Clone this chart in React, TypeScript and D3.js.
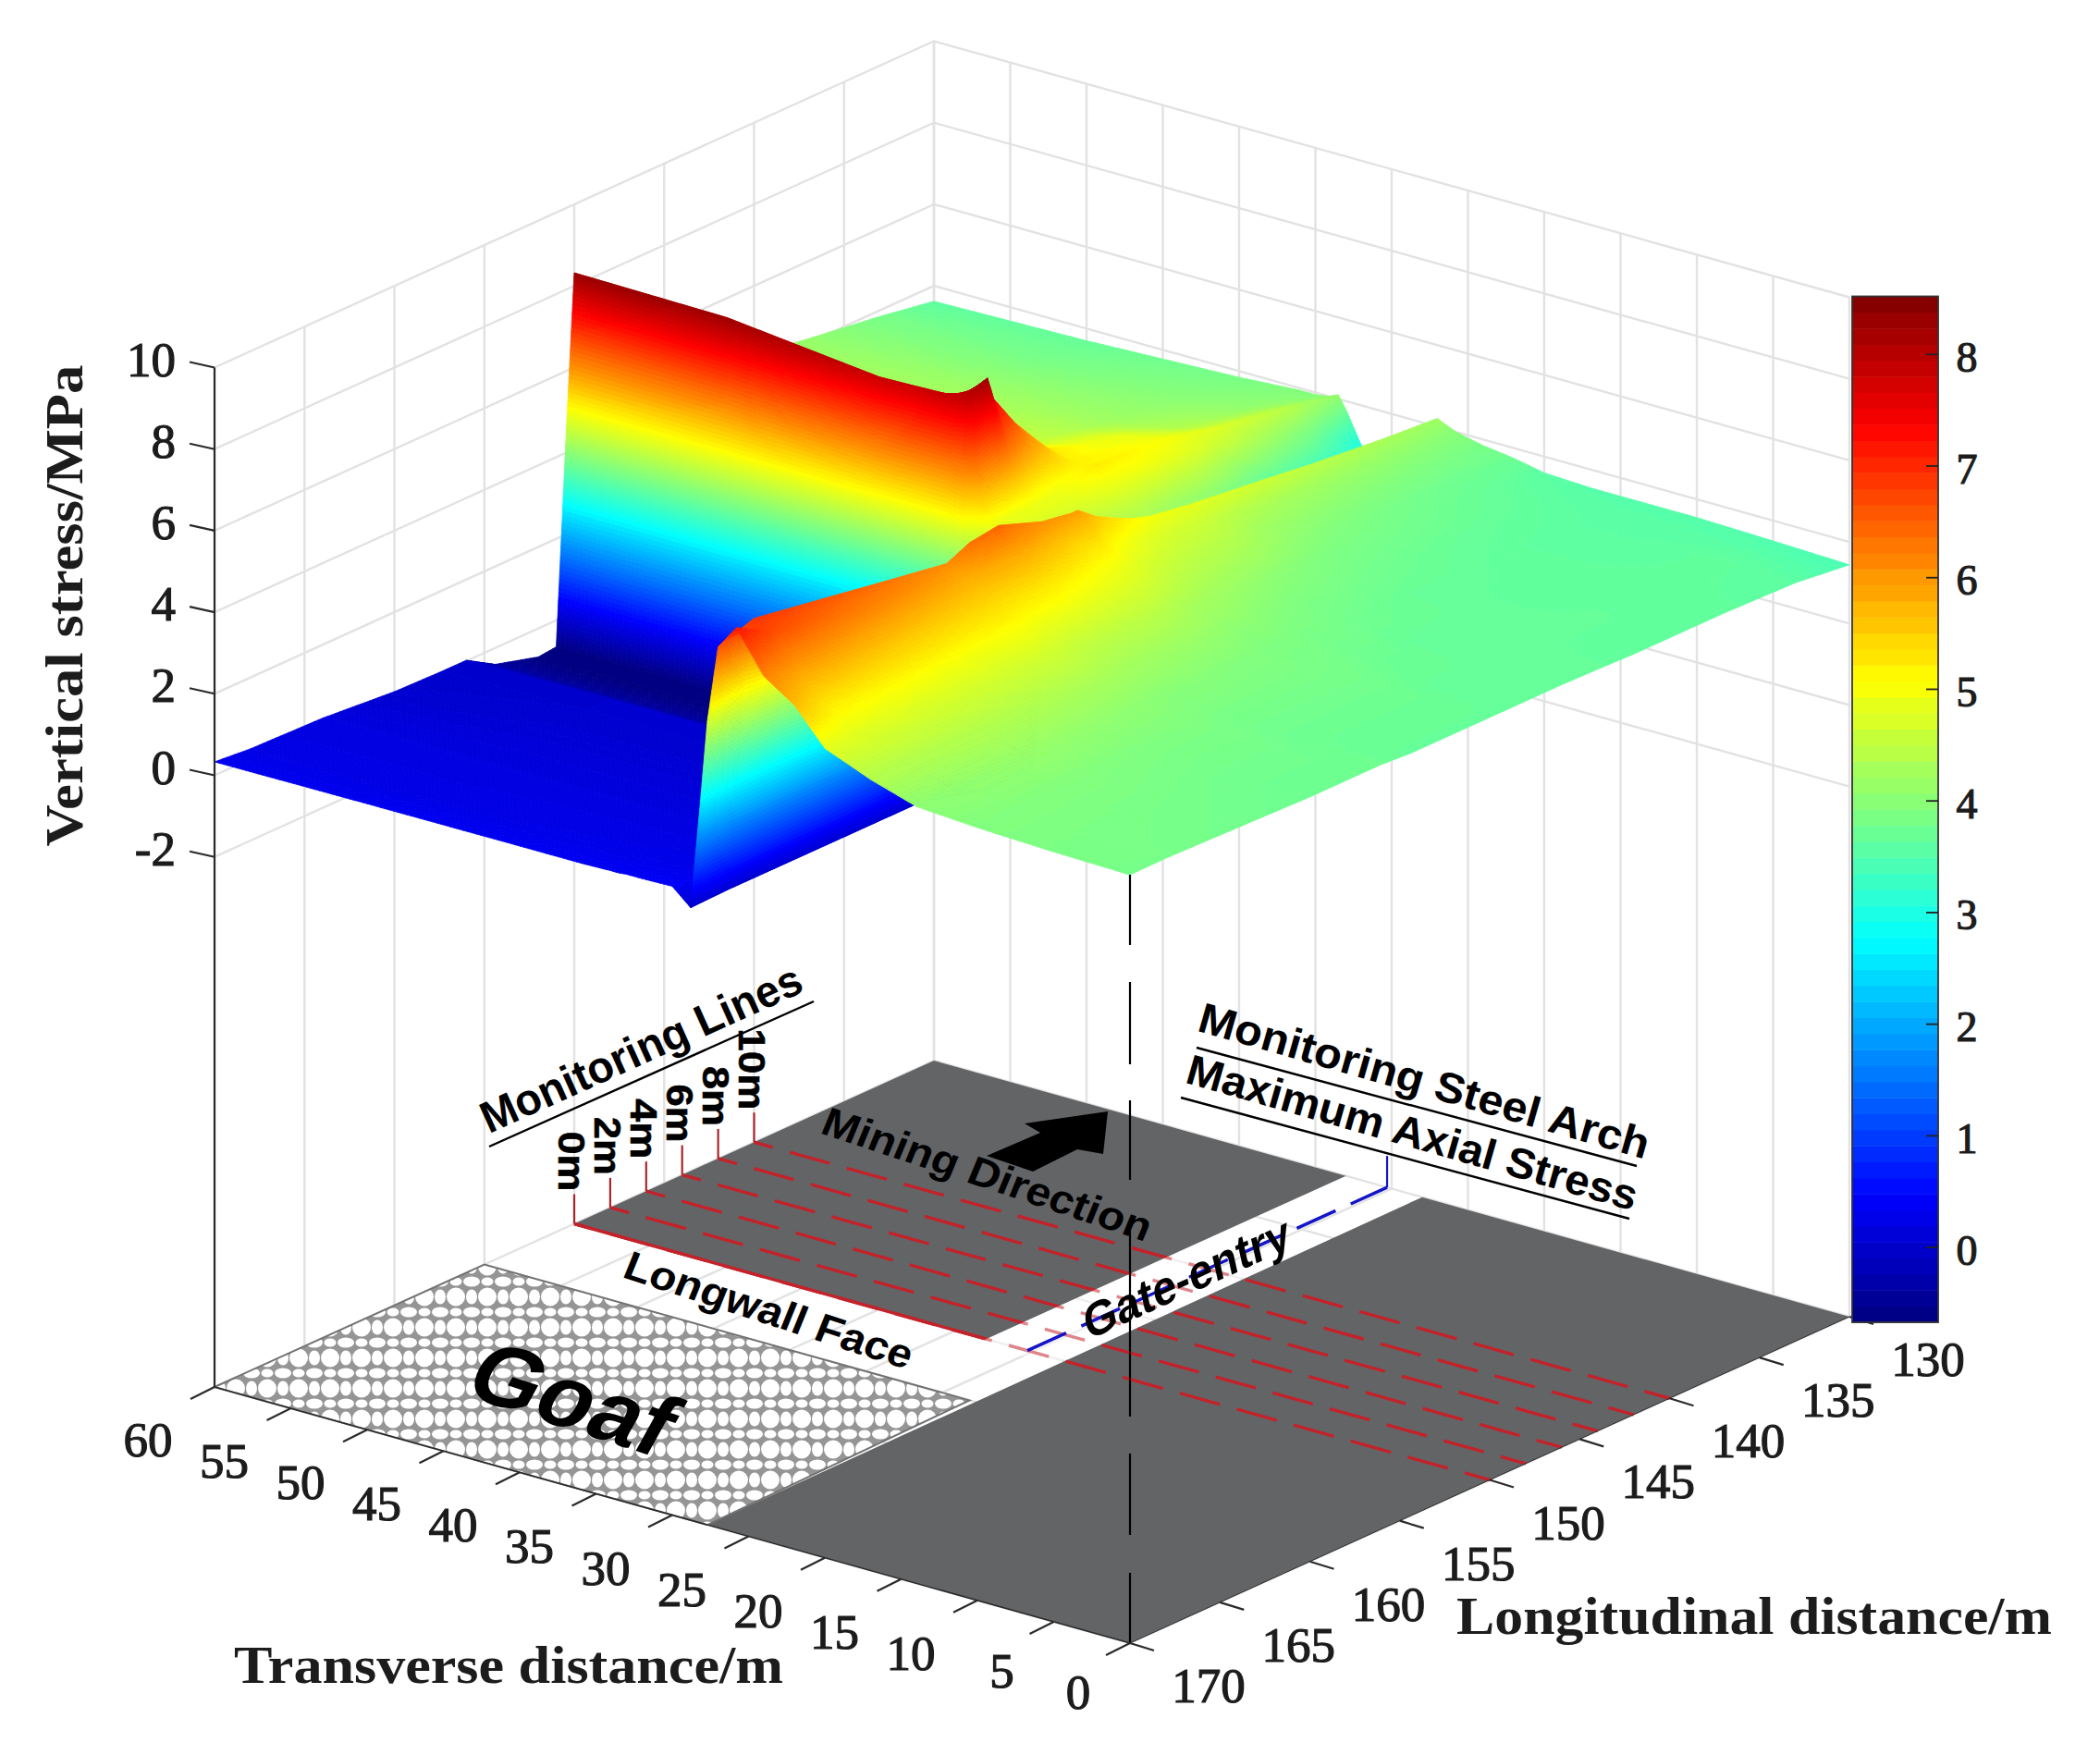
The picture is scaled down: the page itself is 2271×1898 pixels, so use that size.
import React, { useMemo } from "react";
import * as d3 from "d3";

// ---------- data ----------
const transverseTicks = [0, 5, 10, 15, 20, 25, 30, 35, 40, 45, 50, 55, 60];
const longitudinalTicks = [130, 135, 140, 145, 150, 155, 160, 165, 170];
const stressTicks = [-2, 0, 2, 4, 6, 8, 10];
const colorbarTicks = [0, 1, 2, 3, 4, 5, 6, 7, 8];
const monitoringLines = [
  { label: "0m", l: 150, len: 65 }, { label: "2m", l: 148, len: 63 }, { label: "4m", l: 146, len: 65 },
  { label: "6m", l: 144, len: 63 }, { label: "8m", l: 142, len: 65 }, { label: "10m", l: 140, len: 88 },
];

// longitudinal nodes of the stress surface
const lNodes = [170, 168, 164, 160, 157.3, 156, 154.4, 152, 151, 150.4, 150, 149, 148, 147, 146, 144, 142, 140, 137, 133, 130];
// transverse nodes of the stress surface, each with its profile along lNodes
const tNodes = [0, 5, 10, 14, 17, 20, 22, 24, 25.8, 27, 27.7, 28.2, 28.8, 30, 32, 33, 33.5, 34.1, 35, 36, 40, 50, 60];
const z_t0 = [3.84, 3.85, 3.8, 3.75, 3.75, 3.75, 3.7, 3.7, 3.7, 3.7, 3.7, 3.7, 3.7, 3.7, 3.7, 3.68, 3.65, 3.65, 3.65, 3.6, 3.44];
const z_t5 = [3.88, 3.88, 3.85, 3.8, 3.8, 3.75, 3.75, 3.75, 3.75, 3.75, 3.75, 3.7, 3.7, 3.7, 3.7, 3.68, 3.68, 3.68, 3.65, 3.65, 3.5];
const z_t10 = [3.95, 3.95, 3.95, 3.9, 3.9, 3.85, 3.85, 3.85, 3.85, 3.85, 3.85, 3.8, 3.75, 3.75, 3.7, 3.7, 3.7, 3.65, 3.65, 3.6, 3.55];
const z_t14 = [4.05, 4.1, 4.15, 4.1, 4.05, 4.0, 4.0, 3.95, 3.95, 3.9, 3.9, 3.9, 3.85, 3.85, 3.8, 3.75, 3.7, 3.7, 3.65, 3.6, 3.55];
const z_t17 = [4.4, 4.4, 4.4, 4.35, 4.3, 4.25, 4.2, 4.15, 4.1, 4.1, 4.05, 4.05, 4.0, 3.95, 3.9, 3.85, 3.8, 3.75, 3.7, 3.65, 3.55];
const z_t20 = [4.85, 4.8, 4.75, 4.7, 4.65, 4.55, 4.5, 4.45, 4.4, 4.35, 4.3, 4.25, 4.2, 4.15, 4.1, 4.0, 3.9, 3.85, 3.8, 3.7, 3.6];
const z_t22 = [5.7, 5.2, 5.1, 5.0, 5.0, 4.9, 4.85, 4.75, 4.7, 4.65, 4.6, 4.5, 4.4, 4.35, 4.3, 4.2, 4.05, 3.95, 3.85, 3.75, 3.75];
const z_t24 = [6.2, 5.9, 5.7, 5.5, 5.4, 5.35, 5.3, 5.1, 5.0, 4.95, 4.9, 4.75, 4.65, 4.55, 4.5, 4.4, 4.2, 4.1, 4.0, 3.9, 3.85];
const z_t258 = [7.2, 6.7, 6.3, 6.0, 5.8, 5.85, 5.85, 5.6, 5.45, 5.4, 5.4, 5.1, 4.95, 4.8, 4.7, 4.6, 4.4, 4.3, 4.2, 4.1, 4.0];
const z_t27 = [6.6, 6.9, 6.6, 6.3, 6.1, 6.36, 6.46, 6.07, 6.0, 5.95, 5.95, 5.6, 5.36, 5.15, 5.0, 4.86, 4.75, 4.65, 4.48, 4.3, 4.2];
const z_t277 = [4.7, 5.2, 5.0, 4.8, 4.6, 4.9, 5.0, 4.7, 4.8, 5.0, 5.2, 5.0, 4.8, 4.7, 4.6, 4.6, 4.4, 4.3, 4.0, 3.7, 3.6];
const z_t282 = [2.5, 2.6, 2.6, 2.6, 2.5, 2.5, 2.5, 2.4, 2.6, 3.6, 4.8, 4.7, 4.6, 4.5, 4.4, 4.4, 4.2, 4.1, 3.8, 3.4, 3.3];
const z_t288 = [0.02, 0.05, 0.05, 0.05, 0.05, -0.1, -0.3, -0.5, -0.4, 2.0, 4.5, 4.5, 4.4, 4.4, 4.3, 4.3, 4.1, 3.9, 3.5, 3.0, 2.8];
const z_t30 = [0.42, 0.3, 0.2, 0.1, 0.05, 0.05, -0.3, -0.6, -0.6, 1.5, 4.4, 4.5, 4.5, 4.4, 4.4, 4.4, 4.2, 4.1, 3.6, 3.1, 2.7];
const z_t32 = [0.4, 0.3, 0.2, 0.1, 0.05, 0.05, -0.3, -0.65, -0.6, 1.8, 4.8, 4.8, 4.8, 4.8, 4.8, 5.0, 5.0, 4.85, 4.5, 3.9, 3.03];
const z_t33 = [0.4, 0.3, 0.2, 0.1, 0.05, 0.05, -0.3, -0.65, -0.6, 2.0, 5.0, 4.9, 4.9, 4.9, 4.9, 5.25, 5.15, 5.0, 4.75, 4.4, 3.8];
const z_t335 = [0.38, 0.3, 0.2, 0.1, 0.05, 0.05, -0.3, -0.68, -0.6, 4.0, 5.8, 6.0, 5.6, 5.2, 5.0, 5.15, 5.1, 5.0, 4.7, 4.4, 4.1];
const z_t341 = [0.38, 0.3, 0.2, 0.1, 0.05, 0.05, -0.4, -0.7, -0.6, 4.8, 8.0, 8.25, 6.6, 5.9, 5.5, 5.18, 5.1, 4.95, 4.6, 4.3, 4.0];
const z_t35 = [0.37, 0.28, 0.2, 0.1, 0.05, 0.05, -0.4, -0.7, -0.65, 4.9, 7.9, 7.9, 7.5, 6.8, 6.1, 5.2, 5.0, 4.9, 4.5, 4.2, 3.95];
const z_t36 = [0.36, 0.28, 0.2, 0.1, 0.05, 0.05, -0.4, -0.7, -0.65, 4.9, 7.9, 7.6, 7.3, 7.0, 6.4, 5.3, 5.0, 4.85, 4.4, 4.1, 3.95];
const z_t40 = [0.36, 0.27, 0.2, 0.1, 0.05, 0.05, -0.4, -0.7, -0.65, 4.9, 7.86, 6.9, 6.2, 5.6, 5.3, 5.0, 4.6, 4.45, 4.2, 4.0, 3.85];
const z_t50 = [0.35, 0.25, 0.2, 0.1, 0.05, 0.05, -0.4, -0.7, -0.65, 4.9, 8.27, 7.0, 6.3, 5.7, 5.3, 5.0, 4.5, 4.3, 4.15, 3.85, 3.7];
const z_t60 = [0.33, 0.25, 0.2, 0.05, 0.02, 0.02, -0.4, -0.7, -0.65, 4.9, 8.32, 7.0, 6.3, 5.8, 5.4, 5.0, 4.5, 4.3, 4.1, 3.85, 3.62];
const stressRows = [z_t0, z_t5, z_t10, z_t14, z_t17, z_t20, z_t22, z_t24, z_t258, z_t27, z_t277, z_t282, z_t288, z_t30, z_t32, z_t33, z_t335, z_t341, z_t35, z_t36, z_t40, z_t50, z_t60];

// ---------- projection ----------
const W = 2271, H = 1898;
const ox = 1222, oy = 1777;
const tX = d3.scaleLinear([0, 60], [0, -990]);
const tY = d3.scaleLinear([0, 60], [0, -277]);
const lX = d3.scaleLinear([170, 130], [0, 778]);
const lY = d3.scaleLinear([170, 130], [0, -353]);
const zY = d3.scaleLinear([-15, 10], [0, -1102.5]);
const ZFLOOR = -15;
const px = (t: number, l: number) => ox + tX(t) + lX(l);
const py = (t: number, l: number, z: number) => oy + tY(t) + lY(l) + zY(z);
const P = (t: number, l: number, z: number = ZFLOOR): [number, number] => [px(t, l), py(t, l, z)];
const pts = (a: [number, number][]) => a.map((p) => `${p[0].toFixed(1)},${p[1].toFixed(1)}`).join(" ");

// ---------- colours ----------
const CMIN = -0.67, CMAX = 8.52;
const jetStops = d3.scaleLinear<string>()
  .domain([0, 0.125, 0.375, 0.625, 0.875, 1])
  .range(["#000080", "#0000ff", "#00ffff", "#ffff00", "#ff0000", "#800000"])
  .interpolate(d3.interpolateRgb)
  .clamp(true);
const colorFrac = d3.scaleLinear([CMIN, CMAX], [0, 1]).clamp(true);
const jetCache: string[] = d3.range(256).map((i) => d3.color(jetStops((i + 0.5) / 256))!.formatHex());
const jet = (z: number) => jetCache[Math.min(255, Math.floor(colorFrac(z) * 256))];

// ---------- surface as painter-ordered sub-quads ----------
function buildSurface() {
  const runs: { d: string; c: string }[] = [];
  let cur = "", buf: string[] = [];
  const flush = () => { if (buf.length) runs.push({ d: buf.join(""), c: cur }); buf = []; };
  const zAt = (i: number, j: number) => stressRows[i][j];
  const f = (v: number) => v.toFixed(1);
  for (let i = tNodes.length - 2; i >= 0; i--) {
    for (let j = lNodes.length - 2; j >= 0; j--) {
      const t0 = tNodes[i], t1 = tNodes[i + 1], l0 = lNodes[j], l1 = lNodes[j + 1];
      const z00 = zAt(i, j), z10 = zAt(i + 1, j), z01 = zAt(i, j + 1), z11 = zAt(i + 1, j + 1);
      const dist = (a: number[], b: number[]) => Math.hypot(a[0] - b[0], a[1] - b[1]);
      const a = P(t0, l0, z00), b = P(t1, l0, z10), c = P(t0, l1, z01), d = P(t1, l1, z11);
      const step = 5;
      const nt = Math.max(1, Math.ceil(Math.max(dist(a, b), dist(c, d)) / step));
      const nl = Math.max(1, Math.ceil(Math.max(dist(a, c), dist(b, d)) / step));
      const zb = (ft: number, fl: number) =>
        z00 * (1 - ft) * (1 - fl) + z10 * ft * (1 - fl) + z01 * (1 - ft) * fl + z11 * ft * fl;
      for (let m = nt - 1; m >= 0; m--) {
        for (let n = nl - 1; n >= 0; n--) {
          const ft0 = m / nt, ft1 = (m + 1) / nt, fl0 = n / nl, fl1 = (n + 1) / nl;
          const col = jet(zb((ft0 + ft1) / 2, (fl0 + fl1) / 2));
          if (col !== cur) { flush(); cur = col; }
          const q = (ft: number, fl: number) => {
            const tt = t0 + (t1 - t0) * ft, ll = l0 + (l1 - l0) * fl;
            return P(tt, ll, zb(ft, fl));
          };
          const p1 = q(ft0, fl0), p2 = q(ft1, fl0), p3 = q(ft1, fl1), p4 = q(ft0, fl1);
          buf.push(`M${f(p1[0])} ${f(p1[1])}L${f(p2[0])} ${f(p2[1])}L${f(p3[0])} ${f(p3[1])}L${f(p4[0])} ${f(p4[1])}Z`);
        }
      }
    }
  }
  flush();
  return runs;
}

// ---------- annotation shapes ----------
const FLOOR_GRAY = "#636466";
const GRID = "#e2e2e2";
const AXIS = "#2a2a2a";
const RED = "#c4222a";
const TICKRED = "#a8262c";
const BLUE = "#1414c8";
const arrowOutline: [number, number][] = [[1198, 1202], [1193, 1248], [1165, 1243], [1117, 1267], [1067, 1250], [1125, 1225], [1108, 1215]];
const cornerDashes = [[946, 1022], [1062, 1151], [1190, 1276], [1331, 1532], [1572, 1660], [1701, 1777]];

const serif = "'Liberation Serif', 'Times New Roman', serif";
const sans = "'Liberation Sans', Arial, sans-serif";

function SlantText({ x, y, a, skew = 0, size, len, children, weight = "bold" }: any) {
  return (
    <text
      transform={`translate(${x} ${y}) rotate(${a}) skewX(${skew})`}
      textAnchor="middle"
      fontFamily={sans}
      fontWeight={weight}
      fontSize={size}
      fill="#000"
      textLength={len}
      lengthAdjust="spacingAndGlyphs"
    >
      {children}
    </text>
  );
}

export default function App() {
  const runs = useMemo(buildSurface, []);
  const cbY = d3.scaleLinear([CMIN, CMAX], [1430, 320.5]);
  const cbBands = d3.range(64);
  const tickFont = { fontFamily: serif, fontSize: 53, fill: "#1c1c1c", stroke: "#1c1c1c", strokeWidth: 1.2 };

  return (
    <svg width={W} height={H} viewBox={`0 0 ${W} ${H}`} style={{ position: "absolute", left: 0, top: 0, background: "#fff" }}>
      <defs>
        <pattern id="hex" width={34} height={33} patternUnits="userSpaceOnUse">
          <rect width={34} height={33} fill="#959595" />
          <circle cx={17} cy={16.5} r={10} fill="#fff" />
          {[[0, 16.5], [34, 16.5]].map(([cx, cy], i) => (
            <ellipse key={`a${i}`} cx={cx} cy={cy} rx={6} ry={8} fill="#fff" />
          ))}
          {[[0, 0], [34, 0], [0, 33], [34, 33]].map(([cx, cy], i) => (
            <ellipse key={`b${i}`} cx={cx} cy={cy} rx={9} ry={5.5} fill="#fff" />
          ))}
          {[[17, 0], [17, 33]].map(([cx, cy], i) => (
            <ellipse key={`c${i}`} cx={cx} cy={cy} rx={6.5} ry={4.5} fill="#fff" />
          ))}
        </pattern>
      </defs>

      {/* wall and floor grid */}
      <g stroke={GRID} strokeWidth={2.4} fill="none">
        {stressTicks.map((z) => (
          <polyline key={z} points={pts([P(60, 170, z), P(60, 130, z), P(0, 130, z)])} />
        ))}
        {longitudinalTicks.map((l) => (
          <polyline key={l} points={pts([P(60, l, 10), P(60, l), P(0, l)])} />
        ))}
        {transverseTicks.map((t) => (
          <polyline key={t} points={pts([P(t, 130, 10), P(t, 130), P(t, 170)])} />
        ))}
      </g>

      {/* floor patches */}
      <polygon points={pts([P(0, 170), P(0, 130), P(28, 130), P(27.7, 170)])} fill={FLOOR_GRAY} />
      <polygon points={pts([P(33, 150), P(33, 130), P(60, 130), P(60, 150)])} fill={FLOOR_GRAY} />
      <polygon points={pts([P(27.7, 170), P(28.2, 155), P(60, 155), P(60, 170)])} fill="url(#hex)" stroke="#727272" strokeWidth={2} />

      {/* monitoring lines */}
      <g fill="none">
        {monitoringLines.map((m) => (
          <g key={m.label}>
            <line x1={P(60, m.l)[0]} y1={P(60, m.l)[1]} x2={P(0, m.l)[0]} y2={P(0, m.l)[1]} stroke={RED} strokeWidth={3.4} strokeDasharray="45 19" strokeDashoffset={24} />
            <line x1={P(60, m.l)[0]} y1={P(60, m.l)[1]} x2={P(60, m.l)[0]} y2={P(60, m.l)[1] - 32} stroke={TICKRED} strokeWidth={2.2} />
          </g>
        ))}
        <line x1={P(60, 150)[0]} y1={P(60, 150)[1]} x2={P(33, 150)[0]} y2={P(33, 150)[1]} stroke={RED} strokeWidth={3.4} />
      </g>
      {/* the dashes are faint where they cross the gate entry */}
      <polygon points={pts([P(28, 150.5), P(28, 139.5), P(33, 139.5), P(33, 150.5)])} fill="#fff" opacity={0.45} />

      {/* steel arch monitoring line */}
      <g stroke={BLUE} fill="none" strokeWidth={3.4}>
        <line x1={P(30.3, 150)[0]} y1={P(30.3, 150)[1]} x2={P(30.3, 130)[0]} y2={P(30.3, 130)[1]} strokeDasharray="46 18" />
        <line x1={P(30.3, 130)[0]} y1={P(30.3, 130)[1]} x2={P(30.3, 130)[0]} y2={P(30.3, 130)[1] - 34} strokeWidth={2.2} />
      </g>

      {/* mining direction arrow */}
      <polygon points={pts(arrowOutline)} fill="#000" />

      {/* surface */}
      <g strokeWidth={0.8} strokeLinejoin="round">
        {runs.map((r, i) => (
          <path key={i} d={r.d} fill={r.c} stroke={r.c} />
        ))}
      </g>

      {/* dashed vertical from the front corner */}
      {cornerDashes.map(([a, b], i) => (
        <line key={i} x1={ox} x2={ox} y1={a} y2={b} stroke="#000" strokeWidth={2.2} />
      ))}

      {/* axes */}
      <g stroke={AXIS} strokeWidth={2.2} fill="none">
        <line x1={px(60, 170)} y1={py(60, 170, -15)} x2={px(60, 170)} y2={py(60, 170, 10)} />
        <line x1={px(60, 170)} y1={py(60, 170, -15)} x2={ox} y2={oy} strokeWidth={1.5} />
        <line x1={ox} y1={oy} x2={px(0, 130)} y2={py(0, 130, -15)} strokeWidth={1} />
        {stressTicks.map((z) => {
          const a = P(60, 170, z);
          return <line key={z} x1={a[0]} y1={a[1]} x2={a[0] - 27} y2={a[1] - 6} />;
        })}
        {transverseTicks.map((t) => {
          const a = P(t, 170);
          return <line key={t} x1={a[0]} y1={a[1]} x2={a[0] - 26} y2={a[1] + 13} />;
        })}
        {longitudinalTicks.map((l) => {
          const a = P(0, l);
          return <line key={l} x1={a[0]} y1={a[1]} x2={a[0] + 26} y2={a[1] + 8} />;
        })}
      </g>
      <g {...tickFont} textAnchor="middle">
        {stressTicks.map((z) => (
          <text key={z} x={190} y={P(60, 170, z)[1] - 9} textAnchor="end" dominantBaseline="central">{z}</text>
        ))}
        {transverseTicks.map((t) => {
          const a = P(t, 170);
          return <text key={t} x={a[0] + (t < 10 ? -56 : -72)} y={a[1] + (t < 10 ? 53 : 57)} dominantBaseline="central">{t}</text>;
        })}
        {longitudinalTicks.map((l) => {
          const a = P(0, l);
          return <text key={l} x={a[0] + 85} y={a[1] + 46} dominantBaseline="central">{l}</text>;
        })}
      </g>

      {/* axis titles */}
      <g fontFamily={serif} fontWeight="bold" fontSize={56} fill="#1c1c1c">
        <text transform="translate(89 655) rotate(-90)" textAnchor="middle" textLength={521} lengthAdjust="spacingAndGlyphs">Vertical stress/MPa</text>
        <text x={550} y={1820} textAnchor="middle" textLength={594} lengthAdjust="spacingAndGlyphs">Transverse distance/m</text>
        <text x={1897} y={1767} textAnchor="middle" textLength={644} lengthAdjust="spacingAndGlyphs">Longitudinal distance/m</text>
      </g>

      {/* annotations */}
      {monitoringLines.map((m) => {
        const a = P(60, m.l);
        return (
          <text key={m.label} transform={`translate(${a[0] - 17} ${a[1] - 35 - m.len}) rotate(90)`} fontFamily={sans} fontWeight="bold" fontSize={40} fill="#000" stroke="#000" strokeWidth={0.6} textLength={m.len} lengthAdjust="spacingAndGlyphs">
            {m.label}
          </text>
        );
      })}
      <SlantText x={700} y={1149} a={-24.3} size={48} len={376}>Monitoring Lines</SlantText>
      <line x1={529} y1={1240} x2={880} y2={1083} stroke="#000" strokeWidth={2.4} />
      <SlantText x={1062} y={1284} a={18.5} skew={-4} size={44} len={372}>Mining Direction</SlantText>
      <SlantText x={826} y={1431} a={18} skew={-4} size={44} len={325}>Longwall Face</SlantText>
      <SlantText x={604} y={1542} a={18} skew={-11} size={96} len={222}>Goaf</SlantText>
      <SlantText x={1287} y={1399} a={-24.5} skew={-12} size={50} len={243}>Gate-entry</SlantText>
      <SlantText x={1536} y={1184} a={16} size={46} len={505}>Monitoring Steel Arch</SlantText>
      <line x1={1294} y1={1133} x2={1770} y2={1261} stroke="#000" strokeWidth={2.4} />
      <SlantText x={1523} y={1240} a={16} size={46} len={505}>Maximum Axial Stress</SlantText>
      <line x1={1277} y1={1187} x2={1762} y2={1318} stroke="#000" strokeWidth={2.4} />

      {/* colour bar */}
      <g>
        {cbBands.map((i) => {
          const v0 = CMIN + ((CMAX - CMIN) * i) / 64;
          const v1 = CMIN + ((CMAX - CMIN) * (i + 1)) / 64;
          return <rect key={i} x={2003} width={93} y={cbY(v1)} height={cbY(v0) - cbY(v1) + 0.5} fill={jet((v0 + v1) / 2)} />;
        })}
        <rect x={2003} y={cbY(CMAX)} width={93} height={cbY(CMIN) - cbY(CMAX)} fill="none" stroke="#333" strokeWidth={1.8} />
        {colorbarTicks.map((v) => (
          <g key={v}>
            <line x1={2083} x2={2096} y1={cbY(v)} y2={cbY(v)} stroke="#222" strokeWidth={1.8} />
            <text x={2127} y={cbY(v) + 3} textAnchor="middle" dominantBaseline="central" {...tickFont} fontSize={46}>{v}</text>
          </g>
        ))}
      </g>
    </svg>
  );
}
